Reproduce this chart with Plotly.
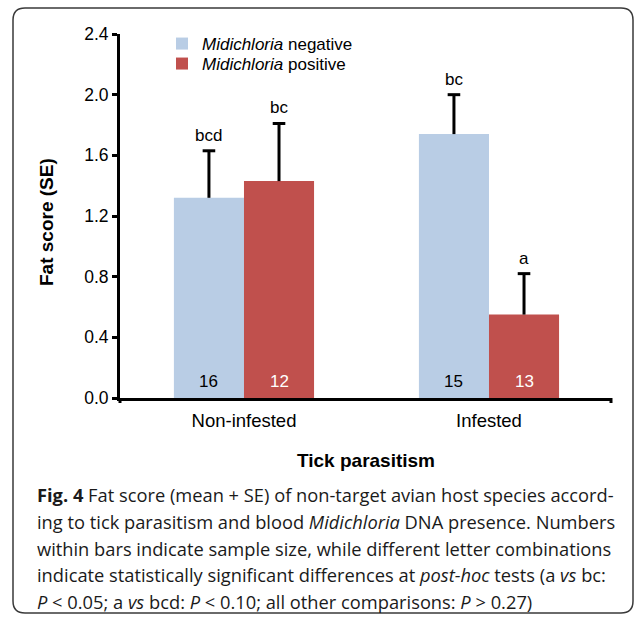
import plotly.graph_objects as go

# ---- data ----
groups = ["Non-infested", "Infested"]
neg_mean = [1.32, 1.74]
pos_mean = [1.43, 0.55]
neg_se = [0.31, 0.26]
pos_se = [0.38, 0.27]
neg_n = ["16", "15"]
pos_n = ["12", "13"]
neg_letters = ["bcd", "bc"]
pos_letters = ["bc", "a"]
y_ticks = [0.0, 0.4, 0.8, 1.2, 1.6, 2.0, 2.4]

caption_lines = [
    "<b>Fig. 4</b> Fat score (mean + SE) of non-target avian host species accord-",
    "ing to tick parasitism and blood <i>Midichloria</i> DNA presence. Numbers",
    "within bars indicate sample size, while different letter combinations",
    "indicate statistically significant differences at <i>post-hoc</i> tests (a <i>vs</i> bc:",
    "<i>P</i> &lt; 0.05; a <i>vs</i> bcd: <i>P</i> &lt; 0.10; all other comparisons: <i>P</i> &gt; 0.27)",
]

# ---- layout constants ----
W, H = 635, 618
ML, MR, MT, MB = 120, 24, 34, 220
PW, PH = W - ML - MR, H - MT - MB
BAR_W = 0.286
NEG_COLOR = "#b9cde5"
POS_COLOR = "#c0504d"
FONT = "Liberation Sans, Arial, sans-serif"

xs = list(range(len(groups)))


def px2paper_x(px):
    return (px - ML) / PW


def px2paper_y(py):
    return (H - MB - py) / PH


fig = go.Figure()
fig.add_trace(go.Bar(
    x=xs, y=neg_mean, width=BAR_W, offset=-BAR_W,
    name="<i>Midichloria</i> negative", legend="legend",
    marker=dict(color=NEG_COLOR, line=dict(width=0)),
))
fig.add_trace(go.Bar(
    x=xs, y=pos_mean, width=BAR_W, offset=0,
    name="<i>Midichloria</i> positive", legend="legend2",
    marker=dict(color=POS_COLOR, line=dict(width=0)),
))

# error bars (upper only): stems + caps
err_x, err_y, cap_x, cap_y = [], [], [], []
for i in xs:
    for xc, m, s in ((i - BAR_W / 2, neg_mean[i], neg_se[i]), (i + BAR_W / 2, pos_mean[i], pos_se[i])):
        err_x += [xc, xc, None]
        err_y += [m, m + s, None]
        cap_x.append(xc)
        cap_y.append(m + s)
fig.add_trace(go.Scatter(x=err_x, y=err_y, mode="lines", line=dict(color="black", width=3),
                         showlegend=False, hoverinfo="skip"))
fig.add_trace(go.Scatter(x=cap_x, y=cap_y, mode="markers", showlegend=False, hoverinfo="skip",
                         marker=dict(symbol="line-ew", size=9, line=dict(color="black", width=3))))

ann = []
for i in xs:
    xn = i - BAR_W / 2
    xp = i + BAR_W / 2
    ann.append(dict(x=xn, y=neg_mean[i] + neg_se[i], text=neg_letters[i], showarrow=False,
                    yanchor="bottom", yshift=4, font=dict(size=17, color="black", family=FONT)))
    ann.append(dict(x=xp, y=pos_mean[i] + pos_se[i], text=pos_letters[i], showarrow=False,
                    yanchor="bottom", yshift=4, font=dict(size=17, color="black", family=FONT)))
    ann.append(dict(x=xn, y=0, text=neg_n[i], showarrow=False, yanchor="middle", yshift=17,
                    font=dict(size=17, color="black", family=FONT)))
    ann.append(dict(x=xp, y=0, text=pos_n[i], showarrow=False, yanchor="middle", yshift=17,
                    font=dict(size=17, color="white", family=FONT)))

# axis titles
ann.append(dict(xref="paper", yref="paper", x=0.5, y=px2paper_y(460), text="<b>Tick parasitism</b>",
                showarrow=False, xanchor="center", yanchor="middle",
                font=dict(size=19, color="black", family=FONT)))
ann.append(dict(xref="paper", yref="paper", x=px2paper_x(47), y=px2paper_y(222), text="<b>Fat score (SE)</b>",
                showarrow=False, textangle=-90, xanchor="center", yanchor="middle",
                font=dict(size=19, color="black", family=FONT)))

# caption
cap_ys = [494, 521, 548, 574, 601]
for line, cy in zip(caption_lines, cap_ys):
    ann.append(dict(xref="paper", yref="paper", x=px2paper_x(35), y=px2paper_y(cy), text=line,
                    showarrow=False, xanchor="left", yanchor="middle", align="left",
                    font=dict(size=18.3, color="#1a1a1a", family="Open Sans, sans-serif")))

# frame (rounded rectangle)
x0, x1, y0, y1, r = 13, 633, 8, 613, 12
X = px2paper_x
Y = px2paper_y
path = (f"M {X(x0 + r)},{Y(y0)} L {X(x1 - r)},{Y(y0)} Q {X(x1)},{Y(y0)} {X(x1)},{Y(y0 + r)} "
        f"L {X(x1)},{Y(y1 - r)} Q {X(x1)},{Y(y1)} {X(x1 - r)},{Y(y1)} "
        f"L {X(x0 + r)},{Y(y1)} Q {X(x0)},{Y(y1)} {X(x0)},{Y(y1 - r)} "
        f"L {X(x0)},{Y(y0 + r)} Q {X(x0)},{Y(y0)} {X(x0 + r)},{Y(y0)} Z")
shapes = [
    dict(type="path", xref="paper", yref="paper", path=path,
         line=dict(color="#3a3a3a", width=1.5), layer="below"),
    dict(type="line", xref="paper", yref="paper", x0=0, x1=0, y0=0, y1=-5 / PH,
         line=dict(color="black", width=3)),
    dict(type="line", xref="paper", yref="paper", x0=1, x1=1, y0=0, y1=-5 / PH,
         line=dict(color="black", width=3)),
]

leg_common = dict(xanchor="left", yanchor="middle",
                  font=dict(size=17, family=FONT, color="black"),
                  bgcolor="rgba(0,0,0,0)", itemwidth=30, borderwidth=0)

fig.update_layout(
    width=W, height=H,
    margin=dict(l=ML, r=MR, t=MT, b=MB, pad=0),
    paper_bgcolor="white", plot_bgcolor="white",
    font=dict(family=FONT, size=17, color="black"),
    barmode="overlay",
    showlegend=True,
    legend=dict(x=px2paper_x(162), y=px2paper_y(44), **leg_common),
    legend2=dict(x=px2paper_x(162), y=px2paper_y(64), **leg_common),
    annotations=ann,
    shapes=shapes,
    xaxis=dict(range=[-0.506, 1.498], tickmode="array", tickvals=xs, ticktext=groups,
               showline=True, linecolor="black", linewidth=3, ticks="", showgrid=False,
               zeroline=False, tickfont=dict(size=18.5), ticklabelstandoff=4, fixedrange=True),
    yaxis=dict(range=[0, 2.4], tickmode="array", tickvals=y_ticks,
               ticktext=[f"{v:.1f}" for v in y_ticks],
               showline=True, linecolor="black", linewidth=3, ticks="outside", ticklen=5,
               tickwidth=3, tickcolor="black", showgrid=False, zeroline=False,
               tickfont=dict(size=17.5), fixedrange=True),
)

fig.write_html("out.html", config={"displayModeBar": False})
